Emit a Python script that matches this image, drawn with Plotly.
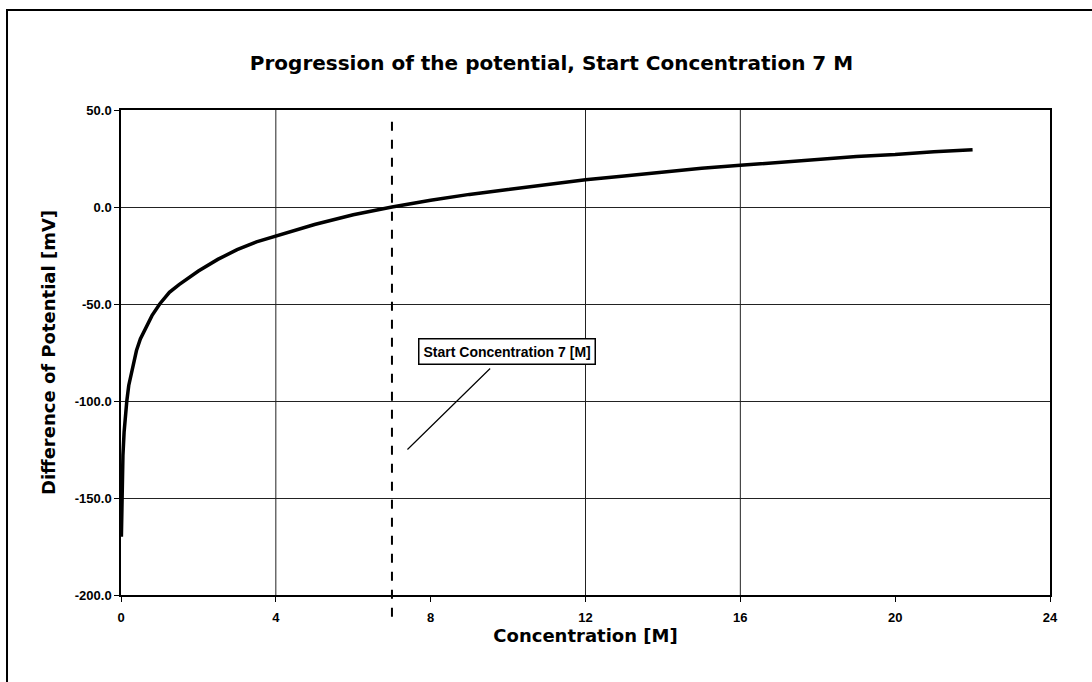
import plotly.graph_objects as go

# Concentration [M] and the measured potential difference [mV]
conc = [0.01, 0.02, 0.03, 0.05, 0.08, 0.1, 0.15, 0.2, 0.3, 0.4, 0.5, 0.6, 0.8,
        1.0, 1.25, 1.5, 2.0, 2.5, 3.0, 3.5, 4.0, 5.0, 6.0, 7.0, 8.0, 9.0, 10.0,
        11.0, 12.0, 13.0, 14.0, 15.0, 16.0, 17.0, 18.0, 19.0, 20.0, 21.0, 22.0]
potential = [-170, -152, -142, -128, -116, -110, -100, -92, -82, -74, -68, -64, -56,
             -50, -44, -40, -33, -27, -22, -18, -15, -9, -4, 0, 3.5, 6.5, 9,
             11.5, 14, 16, 18, 20, 21.5, 23, 24.5, 26, 27, 28.5, 29.5]

start_conc = 7
x_ticks = [0, 4, 8, 12, 16, 20, 24]
x_gridlines = [4, 12, 16]
y_ticks = [50, 0, -50, -100, -150, -200]

FONT = "Liberation Sans, Arial, sans-serif"
HEAVY = "DejaVu Sans, Liberation Sans, sans-serif"

fig = go.Figure()
fig.add_trace(go.Scatter(
    x=conc, y=potential, mode="lines",
    line=dict(color="black", width=3.5),
    showlegend=False, hoverinfo="skip",
))

shapes = []
# vertical grid lines
for g in x_gridlines:
    shapes.append(dict(type="line", xref="x", yref="y", x0=g, x1=g, y0=-200, y1=50,
                       line=dict(color="#222", width=1), layer="below"))
# start concentration marker
shapes.append(dict(type="line", xref="x", yref="paper", x0=start_conc, x1=start_conc,
                   y0=-0.045, y1=0.983, line=dict(color="black", width=2, dash="dash")))
# chart frame
shapes.append(dict(type="rect", xref="paper", yref="paper", x0=-0.1227, x1=1.2,
                   y0=-0.3, y1=1.206, line=dict(color="black", width=2),
                   fillcolor="rgba(0,0,0,0)"))

fig.update_layout(
    width=1092, height=682,
    margin=dict(l=121, r=42, t=110, b=87),
    paper_bgcolor="white", plot_bgcolor="white",
    font=dict(family=FONT, color="black"),
    title=dict(text="<b>Progression of the potential, Start Concentration 7 M</b>",
               x=0.505, xanchor="center", y=0.908, yanchor="middle",
               font=dict(size=20, family=HEAVY, color="black")),
    shapes=shapes,
    annotations=[dict(
        x=7.4, y=-125, xref="x", yref="y",
        text="<b>Start Concentration 7 [M]</b>",
        showarrow=True, arrowhead=0, arrowwidth=1.2, arrowcolor="black",
        ax=100, ay=-98, startstandoff=6,
        font=dict(size=14, family=FONT, color="black"),
        bordercolor="black", borderwidth=1.5, borderpad=4, bgcolor="white",
    )],
)

fig.update_xaxes(
    range=[0, 24], tickvals=x_ticks, ticktext=[str(t) for t in x_ticks],
    showgrid=False, zeroline=False,
    showline=True, linecolor="black", linewidth=1.5, mirror=True,
    ticks="outside", ticklen=5, tickcolor="black", ticklabelstandoff=5,
    tickfont=dict(size=13, family=FONT, color="black", weight="bold"),
    title=dict(text="<b>Concentration [M]</b>", standoff=4,
               font=dict(size=18, family=HEAVY, color="black")),
)
fig.update_yaxes(
    range=[-200, 50], tickvals=y_ticks, ticktext=[f"{t:.1f}" for t in y_ticks],
    showgrid=True, gridcolor="#222", gridwidth=1, zeroline=False,
    showline=True, linecolor="black", linewidth=1.5, mirror=True,
    ticks="outside", ticklen=5, tickcolor="black",
    tickfont=dict(size=13, family=FONT, color="black", weight="bold"),
    title=dict(text="<b>Difference of Potential [mV]</b>", standoff=14,
               font=dict(size=18, family=HEAVY, color="black")),
)

fig.write_html("out.html")
